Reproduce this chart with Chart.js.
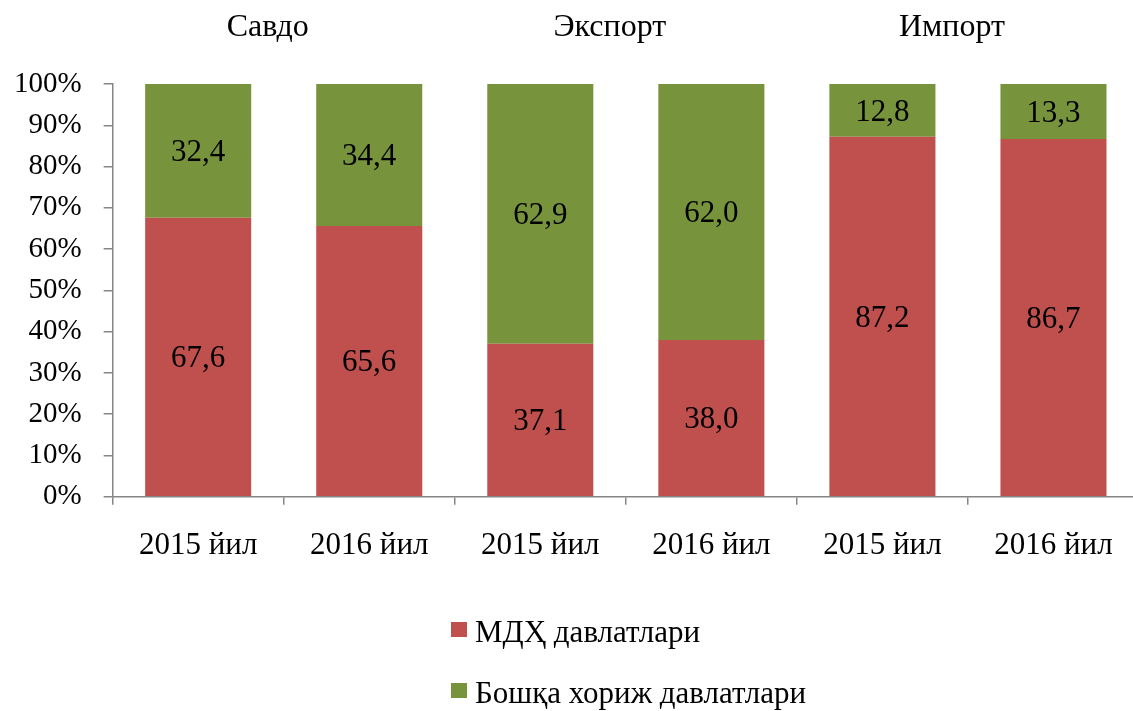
<!DOCTYPE html>
<html>
<head>
<meta charset="utf-8">
<script src="https://cdn.jsdelivr.net/npm/chart.js@4"></script>
<style>
  html, body { margin: 0; padding: 0; background: #fff; overflow: hidden; }
  #wrap { position: relative; width: 1133px; height: 711px; overflow: hidden; }
  #box { position: absolute; left: 0; top: 0; width: 1140px; height: 711px; }
  #legend { position: absolute; left: 451px; top: 615px; font-family: "Liberation Serif", serif; font-size: 31px; color: #000; }
  #legend .item { display: flex; align-items: center; height: 34px; margin-bottom: 27px; }
  #legend .sw { width: 16px; height: 15px; margin-right: 8px; position: relative; top: -3px; }
</style>
</head>
<body>
<div id="wrap">
  <div id="box"><canvas id="chart"></canvas></div>
  <div id="legend"></div>
</div>
<script>
const categories = ['2015 йил', '2016 йил', '2015 йил', '2016 йил', '2015 йил', '2016 йил'];
const groupNames = ['Савдо', 'Экспорт', 'Импорт'];
const seriesNames = ['МДҲ давлатлари', 'Бошқа хориж давлатлари'];
const cisValues = [67.6, 65.6, 37.1, 38.0, 87.2, 86.7];
const otherValues = [32.4, 34.4, 62.9, 62.0, 12.8, 13.3];
const seriesColors = ['#C0504D', '#77933C'];

const fontFamily = '"Liberation Serif", "Times New Roman", serif';
const axisColor = '#868686';

const fmt = v => v.toFixed(1).replace('.', ',');

const labelsPlugin = {
    id: 'barLabels',
    afterDatasetsDraw(chart) {
        const ctx = chart.ctx;
        ctx.save();
        ctx.font = '31px ' + fontFamily;
        ctx.fillStyle = '#000';
        ctx.textAlign = 'center';
        ctx.textBaseline = 'middle';
        chart.data.datasets.forEach((ds, i) => {
            chart.getDatasetMeta(i).data.forEach((bar, j) => {
                const mid = (bar.y + bar.base) / 2;
                ctx.fillText(fmt(ds.data[j]), bar.x, mid + 2);
            });
        });
        ctx.restore();
    }
};

const groupPlugin = {
    id: 'groupTitles',
    afterDraw(chart) {
        const ctx = chart.ctx;
        const x = chart.scales.x;
        ctx.save();
        ctx.font = '32px ' + fontFamily;
        ctx.fillStyle = '#000';
        ctx.textAlign = 'center';
        ctx.textBaseline = 'middle';
        groupNames.forEach((name, g) => {
            const cx = (x.getPixelForValue(g * 2) + x.getPixelForValue(g * 2 + 1)) / 2 - 16;
            ctx.fillText(name, cx, 28);
        });
        ctx.restore();
    }
};

const chart = new Chart(document.getElementById('chart'), {
    type: 'bar',
    data: {
        labels: categories,
        datasets: [
            { label: seriesNames[0], data: cisValues, backgroundColor: seriesColors[0] },
            { label: seriesNames[1], data: otherValues, backgroundColor: seriesColors[1] }
        ]
    },
    options: {
        responsive: true,
        maintainAspectRatio: false,
        animation: false,
        layout: { padding: { top: 84, bottom: 125, left: -8, right: 1 } },
        datasets: { bar: { barPercentage: 1, categoryPercentage: 0.62 } },
        plugins: {
            legend: { display: false },
            tooltip: { enabled: false }
        },
        scales: {
            x: {
                stacked: true,
                border: { color: axisColor, width: 1.5 },
                grid: { drawOnChartArea: false, color: axisColor, tickLength: 8, lineWidth: 1.5 },
                ticks: { color: '#000', font: { family: fontFamily, size: 31 }, padding: 22 }
            },
            y: {
                stacked: true,
                min: 0,
                max: 100,
                border: { color: axisColor, width: 1.5 },
                grid: { drawOnChartArea: false, color: axisColor, tickLength: 9, lineWidth: 1.5 },
                ticks: {
                    stepSize: 10,
                    color: '#000',
                    font: { family: fontFamily, size: 29 },
                    padding: 22,
                    callback: v => v + '%'
                }
            }
        }
    },
    plugins: [labelsPlugin, groupPlugin]
});

const legend = document.getElementById('legend');
seriesNames.forEach((name, i) => {
    const item = document.createElement('div');
    item.className = 'item';
    const sw = document.createElement('span');
    sw.className = 'sw';
    sw.style.background = seriesColors[i];
    item.appendChild(sw);
    item.appendChild(document.createTextNode(name));
    legend.appendChild(item);
});
</script>
</body>
</html>
